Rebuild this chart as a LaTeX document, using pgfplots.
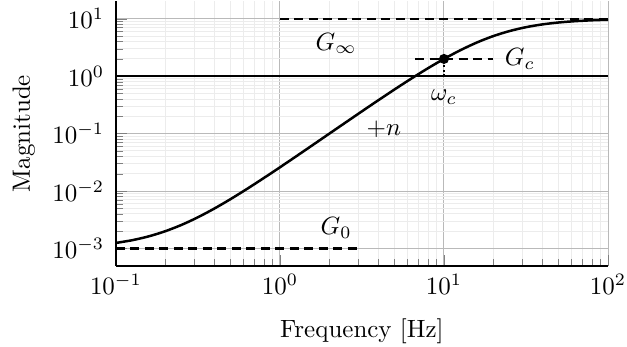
\documentclass[border=0pt]{standalone}
\usepackage{pgfplots}
\pgfplotsset{compat=1.18}

\begin{document}
\begin{tikzpicture}
  \begin{loglogaxis}[
      scale only axis,
      width=197pt, height=105.8pt,
      xmin=0.1, xmax=100,
      ymin=5e-4, ymax=20,
      axis lines=left,
      axis line style={-, line width=1pt},
      tick align=inside,
      xtick={0.1,1,10,100},
      ytick={1e-3,1e-2,1e-1,1,10},
      yticklabel style={xshift=-1.2pt},
      grid=both,
      major grid style={gray!55, line width=0.4pt},
      minor grid style={gray!15, line width=0.4pt},
      xlabel={Frequency [Hz]},
      ylabel={Magnitude},
      xlabel shift=2.8pt,
      clip=false,
    ]
    % |G| = (G0 + Ginf x^2)/(1 + x^2), x = f/20, sampled
    \addplot[black, line width=1pt, smooth] coordinates {
      (0.1,0.00125) (0.1259,0.001396) (0.1585,0.001628) (0.1995,0.001995)
      (0.2512,0.002577) (0.3162,0.003499) (0.3981,0.00496) (0.5012,0.007275)
      (0.6310,0.010942) (0.7943,0.016748) (1,0.025935) (1.259,0.040463)
      (1.585,0.063399) (1.995,0.099536) (2.512,0.156275) (3.162,0.244878)
      (3.981,0.382091) (5.012,0.591806) (6.310,0.90609) (7.943,1.36335)
      (10,2.0008) (12.59,2.83856) (15.85,3.85799) (19.95,4.98864)
      (25.12,6.12051) (31.62,7.14314) (39.81,7.985) (50.12,8.62646)
      (63.10,9.08708) (79.43,9.4039) (100,9.61542)
    };
    % unity line
    \addplot[black, line width=1pt] coordinates {(0.1,1) (100,1)};
    % asymptotes
    \addplot[black, dash pattern=on 3.6pt off 2.2pt, line width=1pt] coordinates {(1,10) (100,10)};
    \addplot[black, dash pattern=on 3.6pt off 2.2pt, line width=1pt] coordinates {(0.1,0.001) (3.162,0.001)};
    \addplot[black, dash pattern=on 3.6pt off 2.2pt, line width=1pt] coordinates {(6.67,2) (20,2)};
    \addplot[black, densely dotted, line width=0.8pt] coordinates {(10,1) (10,2)};
    \addplot[black, only marks, mark=*, mark size=1.8pt] coordinates {(10,2)};
    \node at (axis cs:2.2,3.7) {$G_\infty$};
    \node at (axis cs:29,2) {$G_c$};
    \node at (axis cs:10,0.43) {$\omega_c$};
    \node at (axis cs:4.3,0.12) {$+n$};
    \node at (axis cs:2.2,0.0023) {$G_0$};
  \end{loglogaxis}
  \pgfresetboundingbox
  \path (current axis.south west) ++(-46.4pt,-32.4pt) rectangle ++(251pt,138.8pt);
\end{tikzpicture}
\end{document}
